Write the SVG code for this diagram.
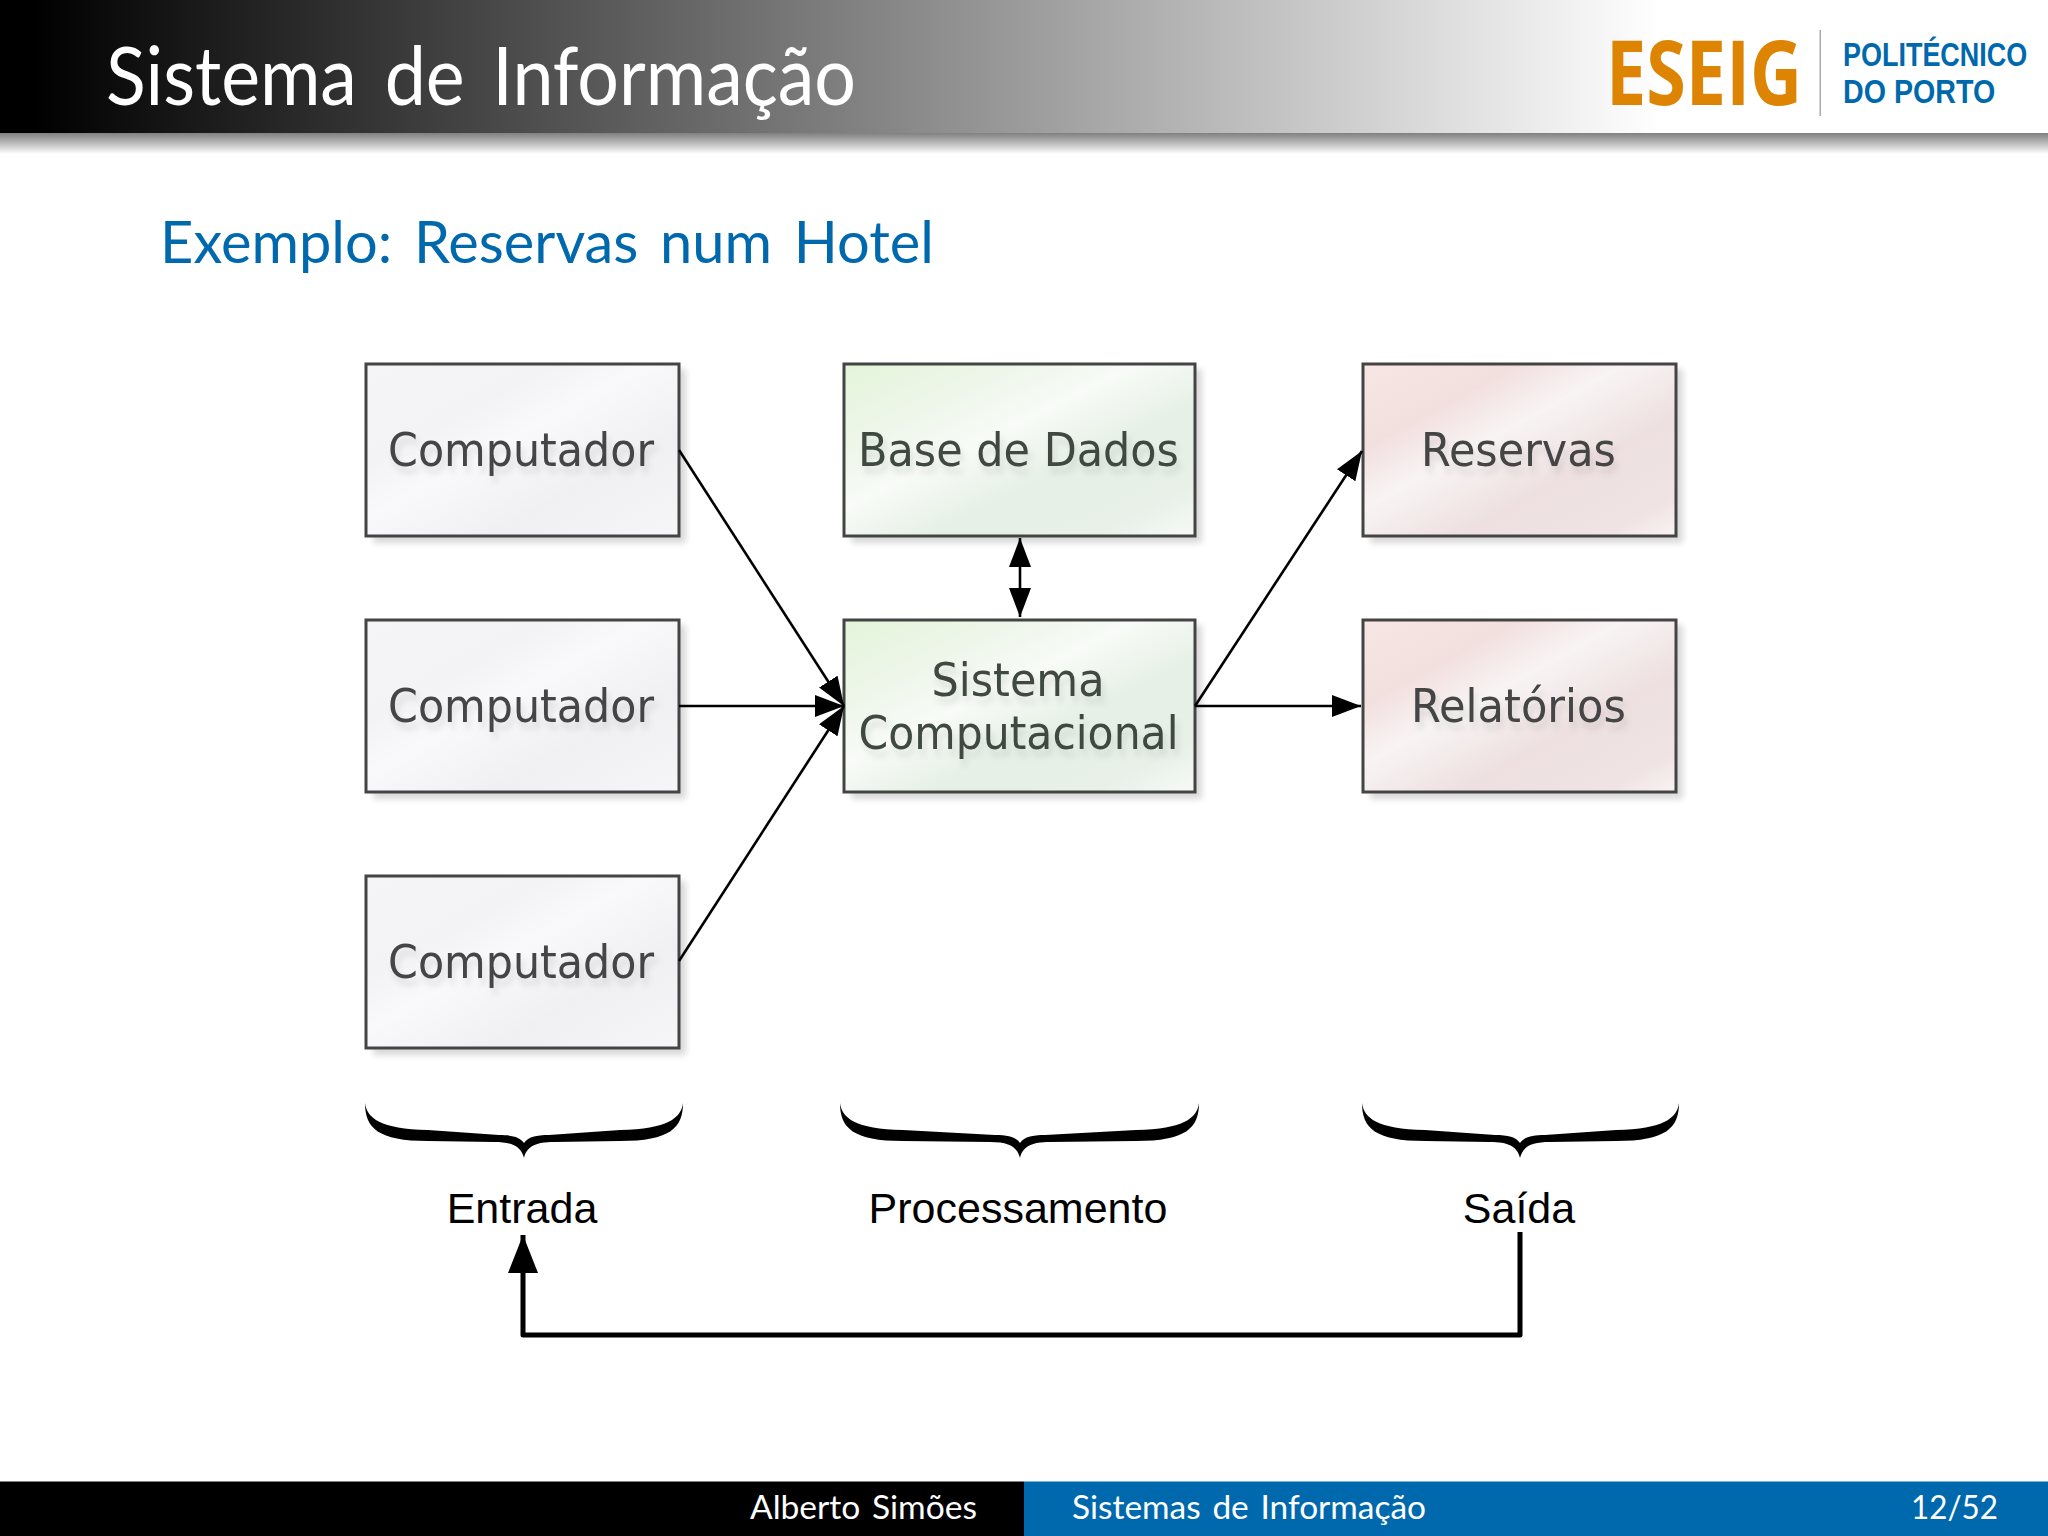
<svg xmlns="http://www.w3.org/2000/svg" width="2048" height="1536" viewBox="0 0 2048 1536">
<style>
.box{stroke:#444;stroke-width:3}
.gray{fill:url(#gGray)}.green{fill:url(#gGreen)}.pink{fill:url(#gPink)}
.shadow{fill:#000;opacity:.15;filter:url(#blur)}
.nl{font-family:"DejaVu Sans",sans-serif;font-size:45.5px;fill:#444;text-anchor:middle;filter:url(#tshadow)}
.gl{fill:#3f4a40}
.lb{font-family:"Liberation Sans",Arial,sans-serif;font-size:43px;fill:#000;text-anchor:middle}
.cm{font-family:Lato,"Open Sans",sans-serif;font-weight:400}
.ft{font-family:Lato,"Open Sans",sans-serif;font-size:32px;fill:#fff;word-spacing:3px}
.logo{font-family:"Open Sans","Noto Sans",sans-serif;font-weight:700}
.logo2{font-family:"Liberation Sans",Arial,sans-serif;font-weight:700;font-size:33.5px;fill:#0069ad}
.c{fill:none;stroke:#000;stroke-width:2.6}
.brace{fill:#000;stroke:none}
</style>
<defs>
<linearGradient id="gHead" x1="0" y1="0" x2="1" y2="0"><stop offset="0" stop-color="#000"/><stop offset=".02" stop-color="#000"/><stop offset="1" stop-color="#fff"/></linearGradient>
<linearGradient id="gShade" x1="0" y1="0" x2="0" y2="1"><stop offset="0" stop-color="#808080"/><stop offset=".5" stop-color="#bdbdbd"/><stop offset="1" stop-color="#fff"/></linearGradient>
<linearGradient id="gGray" x1="0" y1="0" x2="1" y2="1"><stop offset="0" stop-color="#f5f4f7"/><stop offset=".3" stop-color="#f3f2f5"/><stop offset=".45" stop-color="#f9f8fa"/><stop offset=".7" stop-color="#f0eff2"/><stop offset="1" stop-color="#f6f5f7"/></linearGradient>
<linearGradient id="gGreen" x1="0" y1="0" x2="1" y2="1"><stop offset="0" stop-color="#e4f5da"/><stop offset=".25" stop-color="#eef6ea"/><stop offset=".42" stop-color="#f8fbf7"/><stop offset=".62" stop-color="#e6f0e6"/><stop offset=".85" stop-color="#e8f0e8"/><stop offset="1" stop-color="#f6faf6"/></linearGradient>
<linearGradient id="gPink" x1="0" y1="0" x2="1" y2="1"><stop offset="0" stop-color="#f7e6e4"/><stop offset=".25" stop-color="#f2e0df"/><stop offset=".42" stop-color="#f8f4f4"/><stop offset=".65" stop-color="#eee0e0"/><stop offset=".88" stop-color="#efe3e3"/><stop offset="1" stop-color="#f8f4f2"/></linearGradient>
<filter id="blur" x="-10%" y="-10%" width="120%" height="120%"><feGaussianBlur stdDeviation="3"/></filter>
<filter id="tshadow" x="-10%" y="-20%" width="120%" height="160%"><feDropShadow dx="3" dy="7" stdDeviation="3" flood-color="#000" flood-opacity=".1"/></filter>
<marker id="ah" markerUnits="userSpaceOnUse" markerWidth="30" markerHeight="22" refX="29" refY="11" orient="auto-start-reverse"><path d="M0 0L29 11L0 22Z" fill="#000"/></marker>
<marker id="ahBig" markerUnits="userSpaceOnUse" markerWidth="40" markerHeight="30" refX="38" refY="15" orient="auto"><path d="M0 0L38 15L0 30Z" fill="#000"/></marker>
</defs>

<rect width="2048" height="1536" fill="#fff"/>

<g id="header">
<rect x="0" y="0" width="1660" height="133" fill="url(#gHead)"/>
<rect x="0" y="133" width="2048" height="21" fill="url(#gShade)"/>
<text class="cm" x="106" y="105" font-size="82" fill="#fff" word-spacing="10" textLength="750" lengthAdjust="spacingAndGlyphs">Sistema de Informação</text>
<text class="cm" x="160" y="263" font-size="59" fill="#0069ad" word-spacing="7" textLength="774" lengthAdjust="spacingAndGlyphs">Exemplo: Reservas num Hotel</text>
</g>

<g id="logo">
<text class="logo" x="1606" y="105" font-size="90" fill="#dd8502" textLength="196" lengthAdjust="spacingAndGlyphs">ESEIG</text>
<rect x="1819.5" y="30" width="1.5" height="86" fill="#aaa"/>
<text class="logo2" transform="translate(1843,66) scale(.83,1)" textLength="222" lengthAdjust="spacingAndGlyphs">POLITÉCNICO</text>
<text class="logo2" transform="translate(1843,103) scale(.85,1)" textLength="179" lengthAdjust="spacingAndGlyphs">DO PORTO</text>
</g>

<g id="n1"><rect class="shadow" x="373" y="369" width="313" height="174"/><rect class="box gray" x="366" y="364" width="313" height="172"/><text class="nl" x="521" y="466" textLength="266" lengthAdjust="spacingAndGlyphs">Computador</text></g>
<g id="n2"><rect class="shadow" x="373" y="625" width="313" height="174"/><rect class="box gray" x="366" y="620" width="313" height="172"/><text class="nl" x="521" y="722" textLength="266" lengthAdjust="spacingAndGlyphs">Computador</text></g>
<g id="n3"><rect class="shadow" x="373" y="881" width="313" height="174"/><rect class="box gray" x="366" y="876" width="313" height="172"/><text class="nl" x="521" y="978" textLength="266" lengthAdjust="spacingAndGlyphs">Computador</text></g>
<g id="n4"><rect class="shadow" x="851" y="369" width="351" height="174"/><rect class="box green" x="844" y="364" width="351" height="172"/><text class="nl gl" x="1018.5" y="466" textLength="321" lengthAdjust="spacingAndGlyphs">Base de Dados</text></g>
<g id="n5"><rect class="shadow" x="851" y="625" width="351" height="174"/><rect class="box green" x="844" y="620" width="351" height="172"/><text class="nl gl" x="1018" y="696" textLength="173" lengthAdjust="spacingAndGlyphs">Sistema</text><text class="nl gl" x="1018.5" y="749" textLength="320" lengthAdjust="spacingAndGlyphs">Computacional</text></g>
<g id="n6"><rect class="shadow" x="1370" y="369" width="313" height="174"/><rect class="box pink" x="1363" y="364" width="313" height="172"/><text class="nl" x="1518.5" y="466" textLength="195" lengthAdjust="spacingAndGlyphs">Reservas</text></g>
<g id="n7"><rect class="shadow" x="1370" y="625" width="313" height="174"/><rect class="box pink" x="1363" y="620" width="313" height="172"/><text class="nl" x="1518.5" y="722" textLength="215" lengthAdjust="spacingAndGlyphs">Relatórios</text></g>

<g id="connectors">
<path class="c" d="M679 450L844 706" marker-end="url(#ah)"/>
<path class="c" d="M679 706H844" marker-end="url(#ah)"/>
<path class="c" d="M679 961L844 706" marker-end="url(#ah)"/>
<path class="c" d="M1020 538V617" marker-start="url(#ah)" marker-end="url(#ah)"/>
<path class="c" d="M1195 706L1362 451" marker-end="url(#ah)"/>
<path class="c" d="M1195 706H1361" marker-end="url(#ah)"/>
<path d="M1520 1232V1335H523V1235" fill="none" stroke="#000" stroke-width="5" stroke-linejoin="round" marker-end="url(#ahBig)"/>
</g>

<g id="braces">
<path class="brace" d="M365 1103C365 1128 378 1141 428 1141L494 1142C512 1142 521 1146 524 1158C527 1146 536 1142 554 1142L620 1141C670 1141 683 1128 683 1103C681 1118 668 1129 620 1130L549 1135C536 1135 528 1137 524 1143C520 1137 512 1135 499 1135L428 1130C380 1129 367 1118 365 1103Z"/>
<path class="brace" d="M840 1103C840 1128 853 1141 903 1141L990 1142C1008 1142 1017 1146 1020 1158C1023 1146 1032 1142 1050 1142L1136 1141C1186 1141 1199 1128 1199 1103C1197 1118 1184 1129 1136 1130L1045 1135C1032 1135 1024 1137 1020 1143C1016 1137 1008 1135 995 1135L903 1130C855 1129 842 1118 840 1103Z"/>
<path class="brace" d="M1362 1103C1362 1128 1375 1141 1425 1141L1490 1142C1508 1142 1517 1146 1520 1158C1523 1146 1532 1142 1550 1142L1616 1141C1666 1141 1679 1128 1679 1103C1677 1118 1664 1129 1616 1130L1545 1135C1532 1135 1524 1137 1520 1143C1516 1137 1508 1135 1495 1135L1425 1130C1377 1129 1364 1118 1362 1103Z"/>
</g>

<g id="labels">
<text class="lb" x="522" y="1223">Entrada</text>
<text class="lb" x="1018" y="1223">Processamento</text>
<text class="lb" x="1519" y="1223">Saída</text>
</g>

<g id="footer">
<rect x="0" y="1481.5" width="1024" height="54.5" fill="#000"/>
<rect x="1024" y="1481.5" width="1024" height="54.5" fill="#0069ad"/>
<text class="ft" x="750" y="1519" textLength="227" lengthAdjust="spacingAndGlyphs">Alberto Simões</text>
<text class="ft" x="1072" y="1519" textLength="354" lengthAdjust="spacingAndGlyphs">Sistemas de Informação</text>
<text class="ft" x="1911" y="1519" textLength="87" lengthAdjust="spacingAndGlyphs">12/52</text>
</g>
</svg>
